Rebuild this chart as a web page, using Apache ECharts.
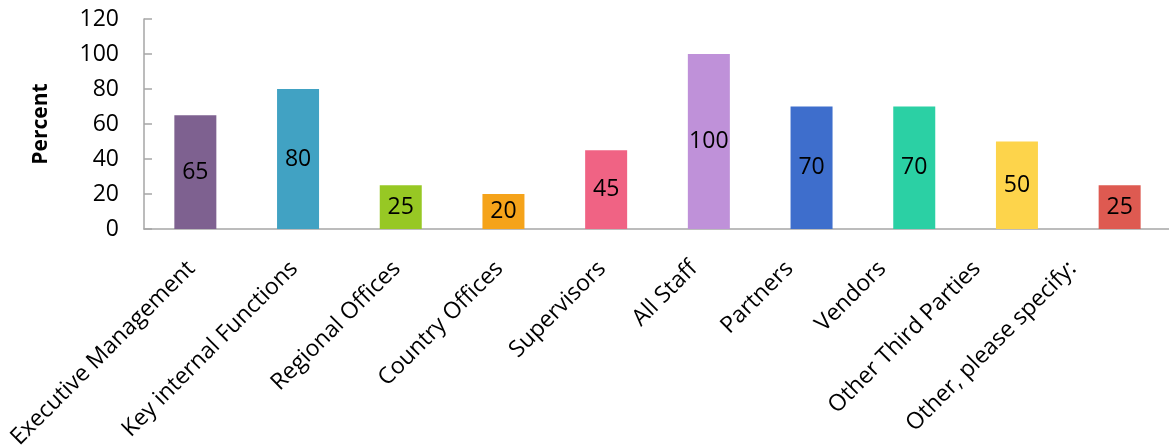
<!DOCTYPE html>
<html>
<head>
<meta charset="utf-8">
<script src="https://cdn.jsdelivr.net/npm/echarts@6/dist/echarts.min.js"></script>
<style>
html,body{margin:0;padding:0;background:#fff;}
#chart{width:1169px;height:447px;}
</style>
</head>
<body>
<div id="chart"></div>
<script>
var categories = ["Executive Management","Key internal Functions","Regional Offices","Country Offices","Supervisors","All Staff","Partners","Vendors","Other Third Parties","Other, please specify:"];
var values = [65, 80, 25, 20, 45, 100, 70, 70, 50, 25];
var barColors = ["#7E6190","#41A2C3","#97C824","#F5A31A","#F06384","#BF91D9","#3E6ECC","#2BD0A4","#FDD44B","#DE5A51"];
var yTicks = [0, 20, 40, 60, 80, 100, 120];
var yAxisName = "Percent";

// layout only: horizontal leftward nudge of the rotated category labels (px), as in the reference
var labelNudge = [0, 0, 0, 0, 0, 11, 18, 28, 36, 43];

var FONT = "'Open Sans', 'Noto Sans', sans-serif";
var chart = echarts.init(document.getElementById('chart'), null, {renderer:'canvas'});
chart.setOption({
  animation: false,
  grid: {left: 144, top: 19, height: 210, right: -2, containLabel: false, outerBoundsMode: 'none'},
  xAxis: {
    type: 'category',
    data: categories,
    axisLine: {lineStyle: {color: '#A6A6A6', width: 1.5}},
    axisTick: {inside: true, length: 8, lineStyle: {color: '#A6A6A6', width: 1.5}},
    axisLabel: {show: false}
  },
  yAxis: {
    type: 'value',
    min: yTicks[0], max: yTicks[yTicks.length-1], interval: 20,
    name: yAxisName,
    nameLocation: 'middle',
    nameRotate: 90,
    nameGap: 92,
    nameTextStyle: {fontSize: 21, fontWeight: 'bold', color: '#000', fontFamily: FONT},
    axisLine: {show: true, lineStyle: {color: '#A6A6A6', width: 1.5}},
    axisTick: {show: true, inside: true, length: 8, lineStyle: {color: '#A6A6A6', width: 1.5}},
    axisLabel: {margin: 25, color: '#000', fontSize: 23, fontFamily: FONT},
    splitLine: {show: false}
  },
  series: [{
    type: 'bar',
    barWidth: 42,
    data: values.map(function(v, i){ return {value: v, itemStyle: {color: barColors[i]}}; }),
    label: {show: true, position: 'inside', color: '#000', fontSize: 23, fontFamily: FONT}
  }, {
    type: 'custom',
    clip: false,
    silent: true,
    data: categories.map(function(c, i){ return [i, 0]; }),
    renderItem: function(params, api){
      var p = api.coord([api.value(0), 0]);
      var i = params.dataIndex;
      return {
        type: 'text',
        x: p[0] - 4 - labelNudge[i],
        y: p[1] + 36,
        rotation: Math.PI / 4,
        style: {
          text: categories[i],
          align: 'right',
          verticalAlign: 'middle',
          fill: '#000',
          font: '23px ' + FONT
        }
      };
    }
  }]
});
</script>
</body>
</html>
